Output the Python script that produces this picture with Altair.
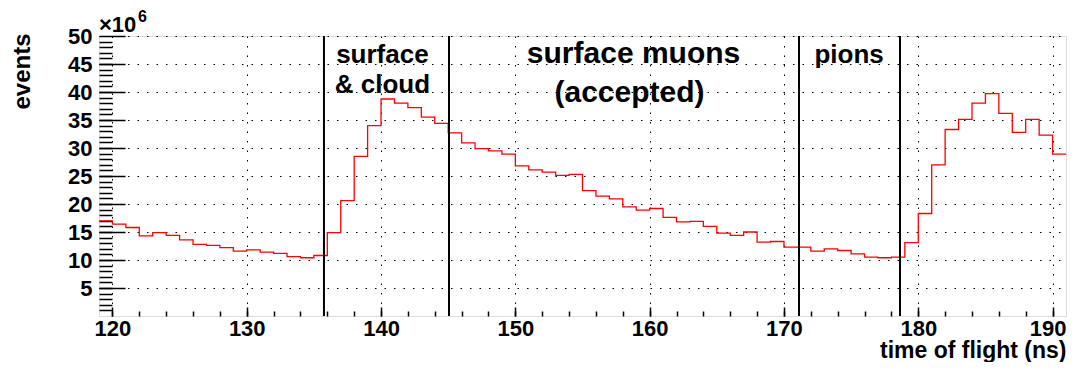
import altair as alt
import pandas as pd

# ---------------- data ----------------
bin_starts = list(range(119, 191))          # 1 ns wide bins, 119 .. 190
counts = [                                   # events per bin, in units of 1e6
    17.0, 16.4, 15.8, 14.3, 14.9, 14.4, 13.6, 12.8, 12.6, 12.2,
    11.6, 11.8, 11.4, 11.2, 10.6, 10.4, 10.8, 14.9, 20.6, 28.5,
    34.0, 38.75, 38.0, 37.2, 35.5, 34.4, 32.7, 30.9, 29.9, 29.5,
    28.9, 26.8, 26.1, 25.7, 25.1, 25.3, 22.4, 21.4, 20.9, 19.5,
    18.9, 19.2, 17.6, 16.8, 16.9, 16.0, 14.8, 14.4, 15.0, 13.2,
    13.3, 12.3, 12.3, 11.6, 12.0, 11.7, 11.1, 10.5, 10.4, 10.5,
    13.1, 18.3, 27.0, 33.3, 35.1, 38.0, 39.7, 36.2, 32.8, 35.1,
    32.3, 28.9,
]
bin_end = 191
boundaries = [135.75, 145.06, 171.12, 178.64]

x_major = [120, 130, 140, 150, 160, 170, 180, 190]
x_minor = list(range(120, 191, 2))
y_major = [5, 10, 15, 20, 25, 30, 35, 40, 45, 50]
y_minor = list(range(1, 50))

small_labels = ["surface", "& cloud", "pions"]
small_x = [140.1, 140.1, 174.85]
small_y = [45.2, 39.8, 45.2]
big_labels = ["surface muons", "(accepted)"]
big_x = [158.8, 158.5]
big_y = [45.2, 38.3]

FONT = "Liberation Sans"

hist_df = pd.DataFrame({"t": bin_starts + [bin_end], "v": counts + [counts[-1]]})
bnd_df = pd.DataFrame({"t": boundaries})
small_df = pd.DataFrame({"t": small_x, "v": small_y, "txt": small_labels})
big_df = pd.DataFrame({"t": big_x, "v": big_y, "txt": big_labels})
exp_df = pd.DataFrame({"t": [119], "v": [50]})

xs = alt.Scale(domain=[119, 191], nice=False, zero=False)
ys = alt.Scale(domain=[0, 50], nice=False, zero=False)

W, H = 967, 280

hist = alt.Chart(hist_df).mark_line(
    interpolate="step-after", color="#ff0000", strokeWidth=1.3, clip=True
).encode(
    x=alt.X("t:Q", scale=xs, axis=alt.Axis(
        values=x_major, format="d", ticks=False, tickSize=0, domain=False,
        labelFont=FONT, labelFontWeight="bold", labelFontSize=22, labelColor="black",
        labelPadding=2, labelFlush=False,
        labelOffset=alt.condition("datum.value == 190", alt.value(-5), alt.value(0)),
        grid=True, gridColor="black", gridDash=[1.5, 8], gridWidth=1, gridOpacity=1,
        title="time of flight (ns)", titleFont=FONT, titleFontWeight="bold", titleFontSize=23,
        titleColor="black", titleAnchor="end", titleAlign="right", titleBaseline="alphabetic",
        titleX=W, titleY=41,
    )),
    y=alt.Y("v:Q", scale=ys, axis=alt.Axis(
        values=y_major, format="d", ticks=False, tickSize=0, domain=False,
        labelFont=FONT, labelFontWeight="bold", labelFontSize=22, labelColor="black",
        labelPadding=7,
        grid=True, gridColor="black", gridDash=[1.5, 8], gridWidth=1, gridOpacity=1,
        title="events", titleFont=FONT, titleFontWeight="bold", titleFontSize=24,
        titleColor="black", titleAngle=270, titleAlign="right", titleBaseline="alphabetic",
        titleX=-70, titleY=-3,
    )),
)

minor_ticks = alt.Chart(hist_df).mark_line(opacity=0).encode(
    x=alt.X("t:Q", scale=xs, axis=alt.Axis(
        values=x_minor, orient="bottom", offset=-5, tickSize=5, tickColor="black", tickWidth=1.5,
        labels=False, domain=False, grid=False, title=None)),
    y=alt.Y("v:Q", scale=ys, axis=alt.Axis(
        values=y_minor, orient="left", offset=-13, tickSize=13, tickColor="black", tickWidth=1.5,
        labels=False, domain=False, grid=False, title=None)),
)

major_ticks = alt.Chart(hist_df).mark_line(opacity=0).encode(
    x=alt.X("t:Q", scale=xs, axis=alt.Axis(
        values=x_major, orient="bottom", offset=-9, tickSize=9, tickColor="black", tickWidth=1.5,
        labels=False, domain=False, grid=False, title=None)),
    y=alt.Y("v:Q", scale=ys, axis=alt.Axis(
        values=y_major, orient="left", offset=-26, tickSize=26, tickColor="black", tickWidth=1.5,
        labels=False, domain=False, grid=False, title=None)),
)

rules = alt.Chart(bnd_df).mark_rule(color="black", strokeWidth=2).encode(
    x=alt.X("t:Q", scale=xs, axis=None)
)

small_txt = alt.Chart(small_df).mark_text(
    font=FONT, fontWeight="bold", fontSize=26, color="black",
    align="center", baseline="alphabetic"
).encode(x=alt.X("t:Q", scale=xs, axis=None), y=alt.Y("v:Q", scale=ys, axis=None), text="txt:N")

big_txt = alt.Chart(big_df).mark_text(
    font=FONT, fontWeight="bold", fontSize=30, color="black",
    align="center", baseline="alphabetic"
).encode(x=alt.X("t:Q", scale=xs, axis=None), y=alt.Y("v:Q", scale=ys, axis=None), text="txt:N")

exp_base = alt.Chart(exp_df).mark_text(
    text="×10", font=FONT, fontWeight="bold", fontSize=22, color="black",
    align="left", baseline="alphabetic", dy=-4
).encode(x=alt.X("t:Q", scale=xs, axis=None), y=alt.Y("v:Q", scale=ys, axis=None),
         size=alt.value(22))

exp_pow = alt.Chart(exp_df).mark_text(
    text="6", font=FONT, fontWeight="bold", fontSize=16, color="black",
    align="left", baseline="alphabetic", dx=39, dy=-14
).encode(x=alt.X("t:Q", scale=xs, axis=None), y=alt.Y("v:Q", scale=ys, axis=None),
         size=alt.value(16))

chart = alt.layer(
    hist, minor_ticks, major_ticks, rules, small_txt, big_txt, exp_base, exp_pow
).resolve_axis(x="independent", y="independent").properties(
    width=W, height=H,
    autosize=alt.AutoSizeParams(type="none"),
    padding={"left": 91, "top": 28, "right": 1, "bottom": 46},
).configure_view(stroke="black", strokeWidth=2).configure(background="white")

chart.save("out.html", embed_options={"renderer": "svg", "actions": False})
